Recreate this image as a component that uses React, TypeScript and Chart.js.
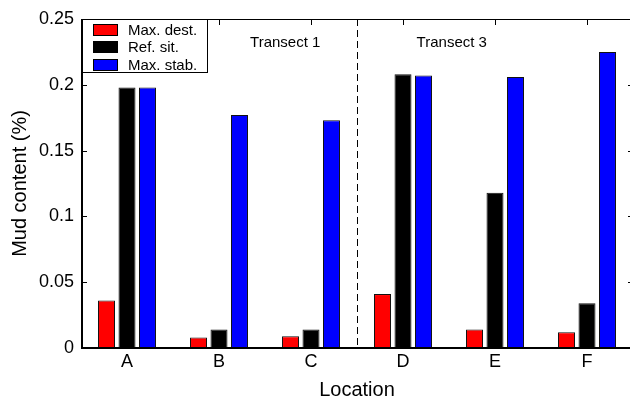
import React, { useEffect, useRef } from 'react';
import { Chart, registerables } from 'chart.js';

Chart.register(...registerables);

// Mud content per location for three scenarios
const locations = ['A', 'B', 'C', 'D', 'E', 'F'];
const maxDest = [0.036, 0.008, 0.009, 0.041, 0.014, 0.012];
const refSit = [0.198, 0.014, 0.014, 0.208, 0.118, 0.034];
const maxStab = [0.198, 0.177, 0.173, 0.207, 0.206, 0.225];
const seriesNames = ['Max. dest.', 'Ref. sit.', 'Max. stab.'];
const seriesColors = ['#ff0000', '#000000', '#0000ff'];
const yTicks = [0, 0.05, 0.1, 0.15, 0.2, 0.25];
const yTickLabels = ['0', '0.05', '0.1', '0.15', '0.2', '0.25'];
const transectLabels = ['Transect 1', 'Transect 3'];

const FONT = "'Liberation Sans', Arial, Helvetica, sans-serif";

const framePlugin = {
  id: 'matlabFrame',
  afterDraw(chart: any) {
    const { ctx, chartArea, scales } = chart;
    const { left, right, top, bottom } = chartArea;
    const x = scales.x;
    const y = scales.y;
    const tick = 5;
    ctx.save();

    // axis box
    ctx.fillStyle = '#000';
    ctx.fillRect(left, top, 2, bottom - top + 1);
    ctx.fillRect(left, bottom - 1, right - left, 2);
    ctx.fillRect(left, top, right - left, 1);
    ctx.fillRect(right - 1, top, 1, bottom - top);

    // inward tick marks
    yTicks.forEach((v) => {
      const py = Math.round(y.getPixelForValue(v));
      ctx.fillRect(left, py, tick + 1, 1);
      ctx.fillRect(right - tick, py, tick, 1);
    });
    locations.forEach((_, i) => {
      const px = Math.round(x.getPixelForValue(i));
      ctx.fillRect(px, top, 1, tick + 1);
      ctx.fillRect(px, bottom - tick - 1, 1, tick);
    });

    // dashed divider between the two transects
    const xd = Math.round((x.getPixelForValue(2) + x.getPixelForValue(3)) / 2) + 0.5;
    ctx.strokeStyle = '#000';
    ctx.lineWidth = 1;
    ctx.setLineDash([7, 4]);
    ctx.beginPath();
    ctx.moveTo(xd, top);
    ctx.lineTo(xd, bottom);
    ctx.stroke();
    ctx.setLineDash([]);

    // transect annotations
    const step = x.getPixelForValue(1) - x.getPixelForValue(0);
    const ty = y.getPixelForValue(0.232);
    ctx.font = `15px ${FONT}`;
    ctx.textAlign = 'center';
    ctx.textBaseline = 'middle';
    ctx.fillStyle = '#000';
    ctx.fillText(transectLabels[0], x.getPixelForValue(1) + 0.72 * step, ty);
    ctx.fillText(transectLabels[1], x.getPixelForValue(3) + 0.53 * step, ty);

    // legend box
    const lx = left + 1;
    const ly = top;
    const lw = 126;
    const lh = 54;
    ctx.fillStyle = '#fff';
    ctx.fillRect(lx, ly, lw, lh);
    ctx.strokeStyle = '#000';
    ctx.lineWidth = 1;
    ctx.strokeRect(lx + 0.5, ly + 0.5, lw - 1, lh - 1);
    ctx.font = `15px ${FONT}`;
    ctx.textAlign = 'left';
    ctx.textBaseline = 'middle';
    chart.data.datasets.forEach((ds: any, i: number) => {
      const cy = ly + 10.5 + i * 17.7;
      ctx.fillStyle = ds.backgroundColor;
      ctx.fillRect(lx + 11, Math.round(cy - 6), 25, 12);
      ctx.strokeStyle = '#000';
      ctx.strokeRect(lx + 11.5, Math.round(cy - 6) + 0.5, 24, 11);
      ctx.fillStyle = '#000';
      ctx.fillText(ds.label, lx + 46, cy + 1);
    });

    ctx.restore();
  },
};

export default function App() {
  const canvasRef = useRef<HTMLCanvasElement | null>(null);

  useEffect(() => {
    const canvas = canvasRef.current;
    if (!canvas) return;
    const series = [maxDest, refSit, maxStab];
    const chart = new Chart(canvas, {
      type: 'bar',
      data: {
        labels: locations,
        datasets: series.map((values, i) => ({
          label: seriesNames[i],
          data: values,
          backgroundColor: seriesColors[i],
          borderColor: '#111',
          borderWidth: 1,
          borderSkipped: false,
          categoryPercentage: 0.668,
          barPercentage: 0.83,
        })),
      },
      options: {
        responsive: false,
        animation: false,
        devicePixelRatio: 1,
        layout: { padding: { top: 19, right: 7, left: 0, bottom: 0 } },
        plugins: {
          legend: { display: false },
          tooltip: { enabled: false },
        },
        scales: {
          x: {
            grid: { display: false, drawTicks: false, tickLength: 0 },
            border: { display: false },
            ticks: {
              color: '#000',
              padding: 3,
              font: { family: FONT, size: 18 },
            },
            title: {
              display: true,
              text: 'Location',
              color: '#000',
              font: { family: FONT, size: 20 },
              padding: { top: 0, bottom: 0 },
            },
            afterFit: (scale: any) => {
              scale.height = 54;
            },
          },
          y: {
            min: 0,
            max: 0.25,
            grid: { display: false, drawTicks: false, tickLength: 0 },
            border: { display: false },
            afterBuildTicks: (scale: any) => {
              scale.ticks = yTicks.map((v) => ({ value: v }));
            },
            ticks: {
              color: '#000',
              padding: 7,
              font: { family: FONT, size: 18 },
              callback: (_v: any, i: number) => yTickLabels[i],
            },
            title: {
              display: true,
              text: 'Mud content (%)',
              color: '#000',
              font: { family: FONT, size: 20 },
              padding: { top: 8, bottom: 0 },
            },
            afterFit: (scale: any) => {
              scale.width = 81;
            },
          },
        },
      },
      plugins: [framePlugin],
    });
    return () => chart.destroy();
  }, []);

  return (
    <div
      style={{
        position: 'fixed',
        left: 0,
        top: 0,
        width: 630,
        height: 402,
        overflow: 'hidden',
        background: '#fff',
      }}
    >
      <canvas
        ref={canvasRef}
        width={640}
        height={402}
        style={{ width: 640, height: 402, display: 'block' }}
      />
    </div>
  );
}
